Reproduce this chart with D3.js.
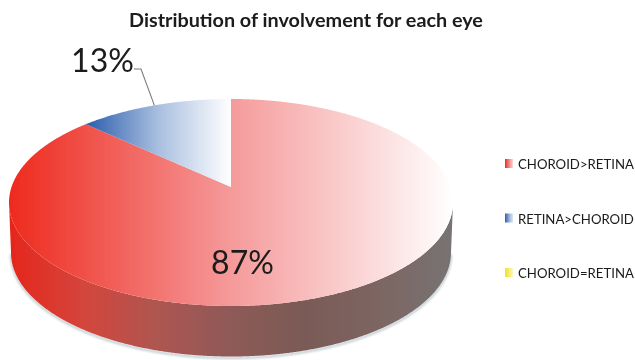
<!DOCTYPE html>
<html><head><meta charset="utf-8">
<script src="https://cdn.jsdelivr.net/npm/d3@7/dist/d3.min.js"></script>
<style>html,body{margin:0;padding:0;background:#fff}svg{display:block}text{font-family:Lato,"Open Sans",sans-serif;fill:#1a1a1a}</style>
</head><body><svg id="c" width="635" height="360"></svg>
<script>
const categories = ["CHOROID>RETINA", "RETINA>CHOROID", "CHOROID=RETINA"];
const values = [87, 13, 0];
const labels = ["87%", "13%", null];
const title = "Distribution of involvement for each eye";
const topStops = [["#ee2a1e", "#f59a9a", "#ffffff"], ["#2d5dac", "#a9bfe0", "#ffffff"], ["#f5e020", "#f8ee80", "#ffffff"]];
const sideStops = ["#e6261c", "#d4453c", "#ae5650", "#8e5a58", "#7a5a56", "#7d6662", "#777373"];

const svg = d3.select("#c");
const defs = svg.append("defs");
const cx = 231, face = { cy: 202.5, rx: 222, ry: 103.5 }, base = { cy: 252.5, rx: 220, ry: 104 };
const tilt = -0.15; // perspective of the tilted disc: centre of the pie sits above the ellipse centre

const project = (a, e) => {
  const u = Math.sin(a), v = -Math.cos(a), d = 1 + tilt * v;
  return [cx + e.rx * u * Math.sqrt(1 - tilt * tilt) / d, e.cy + e.ry * (v + tilt) / d];
};
const apex = [cx, face.cy + face.ry * tilt];
const isFront = a => (-Math.cos(a) + tilt) > 0;
const arcs = d3.pie().sort(null).value(d => d)(values);
const sample = d => d3.range(d.startAngle, d.endAngle, 0.005).concat(d.endAngle);
const line = d3.line();

function grad(id, stops, x1, x2) {
  const g = defs.append("linearGradient").attr("id", id).attr("gradientUnits", "userSpaceOnUse")
    .attr("x1", x1).attr("x2", x2).attr("y1", 0).attr("y2", 0);
  stops.forEach((c, i) => g.append("stop").attr("offset", i / (stops.length - 1)).attr("stop-color", c));
}
defs.append("filter").attr("id", "soft").append("feGaussianBlur").attr("stdDeviation", 1);
defs.append("filter").attr("id", "img").attr("x", 0).attr("y", 0)
  .attr("filterUnits", "userSpaceOnUse").attr("width", 635).attr("height", 360)
  .append("feGaussianBlur").attr("stdDeviation", 0.45);

grad("side", sideStops, cx - face.rx, cx + face.rx);
arcs.forEach((d, i) => {
  const xs = sample(d).map(a => project(a, face)[0]);
  grad("top" + i, topStops[i], d3.min(xs), i === 0 ? d3.max(xs) : cx);
  grad("sw" + i, topStops[i], 505, 515);
});

const root = svg.append("g").attr("filter", "url(#img)");
// soft edge beneath the base
root.append("g").selectAll("path").data(arcs).join("path")
  .attr("filter", "url(#soft)").attr("fill", "none").attr("stroke", "#b9c6cc").attr("stroke-width", 2)
  .attr("d", d => { const p = sample(d).filter(isFront).map(a => project(a, base)); return p.length > 1 ? line(p.map(q => [q[0], q[1] + 1.5])) : null; });
// side wall
root.append("g").selectAll("path").data(arcs).join("path").attr("fill", "url(#side)")
  .attr("d", d => {
    const f = sample(d).filter(isFront);
    if (f.length < 2) return null;
    return line(f.map(a => project(a, face)).concat(f.slice().reverse().map(a => project(a, base)))) + "Z";
  });
// top face
root.append("g").selectAll("path").data(arcs).join("path")
  .attr("fill", (d, i) => `url(#top${i})`)
  .attr("d", d => d.value ? line([apex].concat(sample(d).map(a => project(a, face)))) + "Z" : null);

// leader for the small slice
const mid = project((arcs[1].startAngle + arcs[1].endAngle) / 2, face);
root.append("path").attr("fill", "none").attr("stroke", "#7b7b7b").attr("stroke-width", 1.1)
  .attr("d", line([[134, 69], [141, 69], mid]));

root.append("text").attr("x", 306).attr("y", 26.5).attr("text-anchor", "middle")
  .attr("font-size", 19.8).attr("font-weight", 700).text(title);
root.append("text").attr("x", 242.5).attr("y", 274).attr("text-anchor", "middle").attr("font-size", 32).text(labels[0]);
root.append("text").attr("x", 102.5).attr("y", 72).attr("text-anchor", "middle").attr("font-size", 32).text(labels[1]);

const legendY = d3.scalePoint().domain(categories).range([163.5, 272.5]);
const lg = root.append("g").selectAll("g").data(categories).join("g").attr("transform", d => `translate(0,${legendY(d)})`);
lg.append("rect").attr("x", 505).attr("y", -4.5).attr("width", 8).attr("height", 9).attr("fill", (d, i) => `url(#sw${i})`);
lg.append("text").attr("x", 518).attr("y", 5.5).attr("font-size", 13.2).text(d => d);
</script></body></html>
